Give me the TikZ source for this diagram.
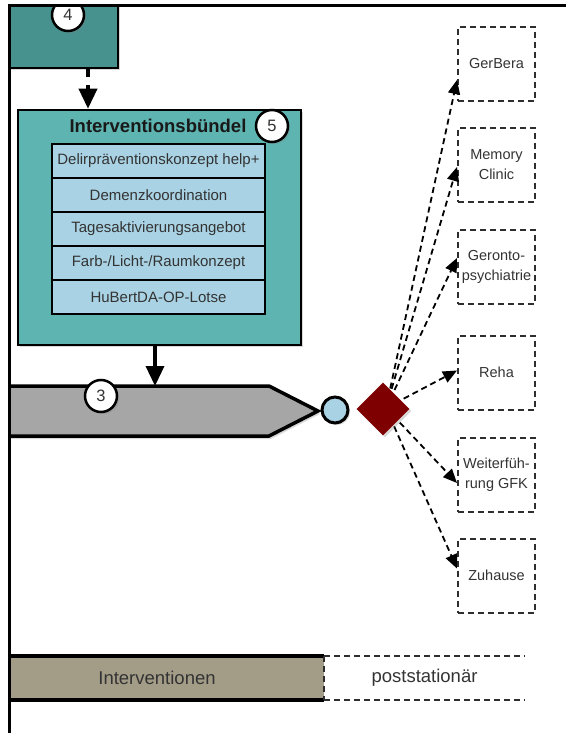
\documentclass[tikz,border=0pt]{standalone}
\usepackage{fontspec}
\setmainfont{Liberation Sans}
\usetikzlibrary{arrows.meta,shapes.geometric,shadows}
\definecolor{tealdark}{HTML}{47928F}
\definecolor{teallight}{HTML}{5DB4B1}
\definecolor{rowblue}{HTML}{A9D3E4}
\definecolor{grayarrow}{HTML}{A6A6A6}
\definecolor{khaki}{HTML}{A39D88}
\definecolor{darkred}{HTML}{7F0000}
\definecolor{dashgray}{HTML}{2E2E2E}
\definecolor{txtgray}{HTML}{333333}
\begin{document}
\begin{tikzpicture}[x=1pt,y=-1pt,
  shadowed/.style={drop shadow={shadow xshift=2pt,shadow yshift=-2pt,opacity=0.3}},
  numcirc/.style={circle,draw=black,line width=2.5pt,fill=white,minimum size=32pt,inner sep=0pt,font=\fontsize{16.5}{18}\selectfont,text=txtgray,shadowed},
  rowbox/.style={draw=black,line width=2pt,fill=rowblue,minimum width=213pt,minimum height=34pt,inner sep=0pt,font=\fontsize{15}{17}\selectfont,text=txtgray},
  target/.style={draw=dashgray,line width=2pt,dash pattern=on 6pt off 4pt,minimum width=77pt,minimum height=74pt,inner sep=0pt,align=center,font=\fontsize{14.5}{20}\selectfont,text=txtgray},
  conn/.style={draw=black,line width=1.8pt,dash pattern=on 6pt off 4pt,-{Triangle[length=14pt,width=12pt]}},
  bigarrow/.style={line width=3.5pt,-{Triangle[length=20pt,width=18pt]}},
  dashline/.style={draw=dashgray,line width=2pt,dash pattern=on 6pt off 4pt},
]
\useasboundingbox (0,0) rectangle (566,733);
\begin{scope}
\clip (9,6) rectangle (566,733);
% box 4
\node[draw=black,line width=2.5pt,fill=tealdark,minimum width=128pt,minimum height=88pt,inner sep=0pt,shadowed] (b4) at (54,24) {};
\node[numcirc] (c4) at (68,15) {4};
% box 5
\node[draw=black,line width=2.5pt,fill=teallight,minimum width=283pt,minimum height=235pt,inner sep=0pt,shadowed] (b5) at (159.5,227.5) {};
\node[font=\bfseries\fontsize{18.5}{20}\selectfont,text=black!90,inner sep=0pt] (title) at (158,126) {Interventionsbündel};
\node[numcirc] (c5) at (272,126) {5};
\node[rowbox] (r1) at (158.5,161) {Delirpräventionskonzept help+};
\node[rowbox] (r2) at (158.5,195) {Demenzkoordination};
\node[rowbox] (r3) at (158.5,229) {Tagesaktivierungsangebot};
\node[rowbox] (r4) at (158.5,263) {Farb-/Licht-/Raumkonzept};
\node[rowbox] (r5) at (158.5,297) {HuBertDA-OP-Lotse};
\draw[bigarrow,dash pattern=on 8pt off 8pt] (b4.south -| 88,0) -- (b5.north -| 88,0);
% gray process arrow
\node[diamond,fill=darkred,minimum width=52pt,minimum height=52pt,inner sep=0pt] (dl) at (-11,410) {};
\draw[line width=3.5pt,fill=grayarrow,drop shadow={shadow xshift=2pt,shadow yshift=-3pt,opacity=0.3}] (-30,386) -- (269,386) -- (318,411) -- (269,436) -- (-30,436) -- cycle;
\coordinate (gtop) at (155,386);
\node[numcirc] (c3) at (101,396) {3};
\draw[bigarrow] (b5.south -| gtop) -- (gtop);
\node[circle,draw=black,line width=3pt,fill=rowblue,minimum size=26pt,inner sep=0pt,shadowed] (lc) at (335,410) {};
% targets
\node[target] (t1) at (496.5,64) {GerBera};
\node[target] (t2) at (496.5,165) {Memory\\Clinic};
\node[target] (t3) at (496.5,267) {Geronto-\\psychiatrie};
\node[target] (t4) at (496.5,372.5) {Reha};
\node[target] (t5) at (496.5,475) {Weiterfüh-\\rung GFK};
\node[target] (t6) at (496.5,575.5) {Zuhause};
\coordinate (dc) at (386,408);
\draw[conn] (dc) -- ([yshift=-16pt]t1.west);
\draw[conn] (dc) -- ([yshift=-2pt]t2.west);
\draw[conn] (dc) -- ([yshift=9pt]t3.west);
\draw[conn] (dc) -- ([yshift=2pt]t4.west);
\draw[conn] (dc) -- ([yshift=-8pt]t5.west);
\draw[conn] (dc) -- ([yshift=7pt]t6.west);
\node[diamond,fill=darkred,minimum width=53pt,minimum height=53pt,inner sep=0pt,shadowed] (dia) at (383,409) {};
% bottom bar
\node[fill=khaki,minimum width=334pt,minimum height=44pt,inner sep=0pt,font=\fontsize{18.5}{20}\selectfont,text=txtgray] (iv) at (157,678) {Interventionen};
\draw[line width=3.5pt] (iv.north west) -- (iv.north east);
\draw[line width=3.5pt] (iv.south west) -- (iv.south east);
\draw[dashline] (iv.north east) -- (iv.south east);
\node[minimum width=201pt,minimum height=44pt,inner sep=0pt,font=\fontsize{18.5}{20}\selectfont,text=txtgray] (pst) at (424.5,678) {poststationär};
\draw[dashline] (pst.north west) -- (pst.north east);
\draw[dashline] (pst.south west) -- (pst.south east);
\end{scope}
% frame
\draw[line width=3pt] (9,733) -- (9,6) -- (566,6);
\end{tikzpicture}
\end{document}
